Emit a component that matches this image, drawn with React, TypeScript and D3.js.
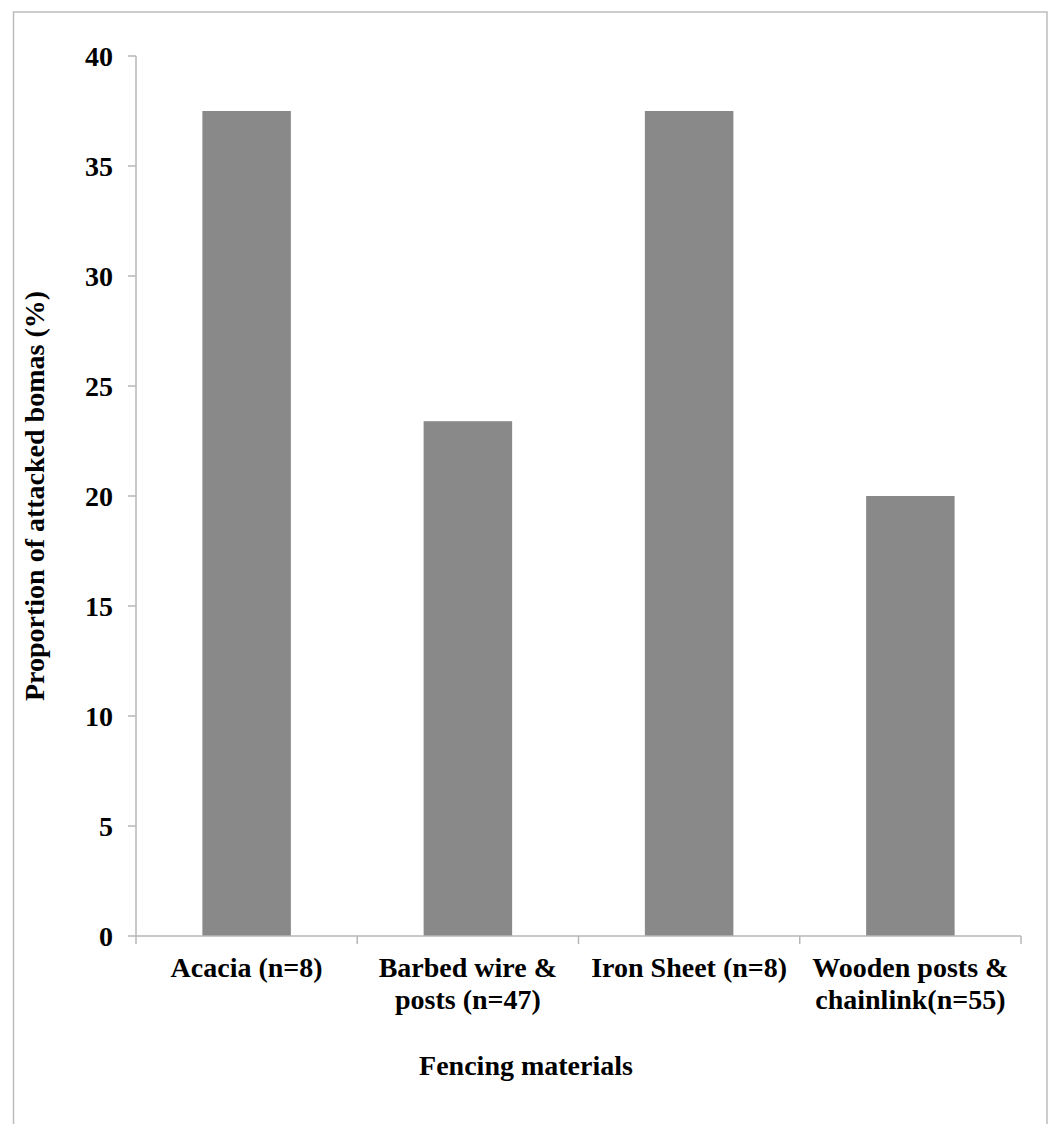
import React from "react";
import * as d3 from "d3";

const categories = ["Acacia (n=8)", "Barbed wire & posts (n=47)", "Iron Sheet (n=8)", "Wooden posts & chainlink(n=55)"];
const categoryLines = [["Acacia (n=8)"], ["Barbed wire &", "posts (n=47)"], ["Iron Sheet (n=8)"], ["Wooden posts &", "chainlink(n=55)"]];
const values = [37.5, 23.4, 37.5, 20];
const yTicks = [0, 5, 10, 15, 20, 25, 30, 35, 40];
const xTitle = "Fencing materials";
const yTitle = "Proportion of attacked bomas (%)";

const W = 1050;
const H = 1124;
const left = 136;
const right = 1021;
const top = 56;
const bottom = 936;
const FONT = "'Liberation Serif', 'Times New Roman', serif";
const AXIS = "#b7b7b7";
const FS = 28;

export default function App() {
  const x = d3.scaleBand<string>().domain(categories).range([left, right]).paddingInner(0.6).paddingOuter(0.3);
  const y = d3.scaleLinear().domain([0, 40]).range([bottom, top]);
  const step = x.step();
  const boundaries = d3.range(categories.length + 1).map((i) => left + i * step);

  return (
    <svg width={W} height={H} style={{ position: "absolute", left: 0, top: 0, background: "#fff" }} fontFamily={FONT}>
      <rect x={13.5} y={12} width={1033.5} height={H} fill="none" stroke="#bdbdbd" strokeWidth={1.5} />
      {/* y axis */}
      <line x1={left} x2={left} y1={top} y2={bottom} stroke={AXIS} strokeWidth={1.5} />
      {yTicks.map((t) => (
        <g key={t}>
          <line x1={128} x2={left} y1={y(t)} y2={y(t)} stroke={AXIS} strokeWidth={1.5} />
          <text x={113} y={y(t)} dy="0.35em" textAnchor="end" fontSize={FS} fontWeight="bold" fill="#000">
            {t}
          </text>
        </g>
      ))}
      {/* bars */}
      {categories.map((c, i) => (
        <rect key={c} x={x(c)} y={y(values[i])} width={x.bandwidth()} height={y(0) - y(values[i])} fill="#898989" />
      ))}
      {/* x axis */}
      <line x1={left} x2={right} y1={bottom} y2={bottom} stroke={AXIS} strokeWidth={1.5} />
      {boundaries.map((b, i) => (
        <line key={i} x1={b} x2={b} y1={bottom} y2={bottom + 8} stroke={AXIS} strokeWidth={1.5} />
      ))}
      {categories.map((c, i) => (
        <text key={c} x={(x(c) as number) + x.bandwidth() / 2} y={977} textAnchor="middle" fontSize={FS} fontWeight="bold" fill="#000">
          {categoryLines[i].map((ln, j) => (
            <tspan key={j} x={(x(c) as number) + x.bandwidth() / 2} dy={j === 0 ? 0 : 32}>
              {ln}
            </tspan>
          ))}
        </text>
      ))}
      <text x={526} y={1075} textAnchor="middle" fontSize={FS} fontWeight="bold" fill="#000">
        {xTitle}
      </text>
      <text transform={`translate(44, ${(top + bottom) / 2}) rotate(-90)`} textAnchor="middle" fontSize={FS} fontWeight="bold" fill="#000">
        {yTitle}
      </text>
    </svg>
  );
}
